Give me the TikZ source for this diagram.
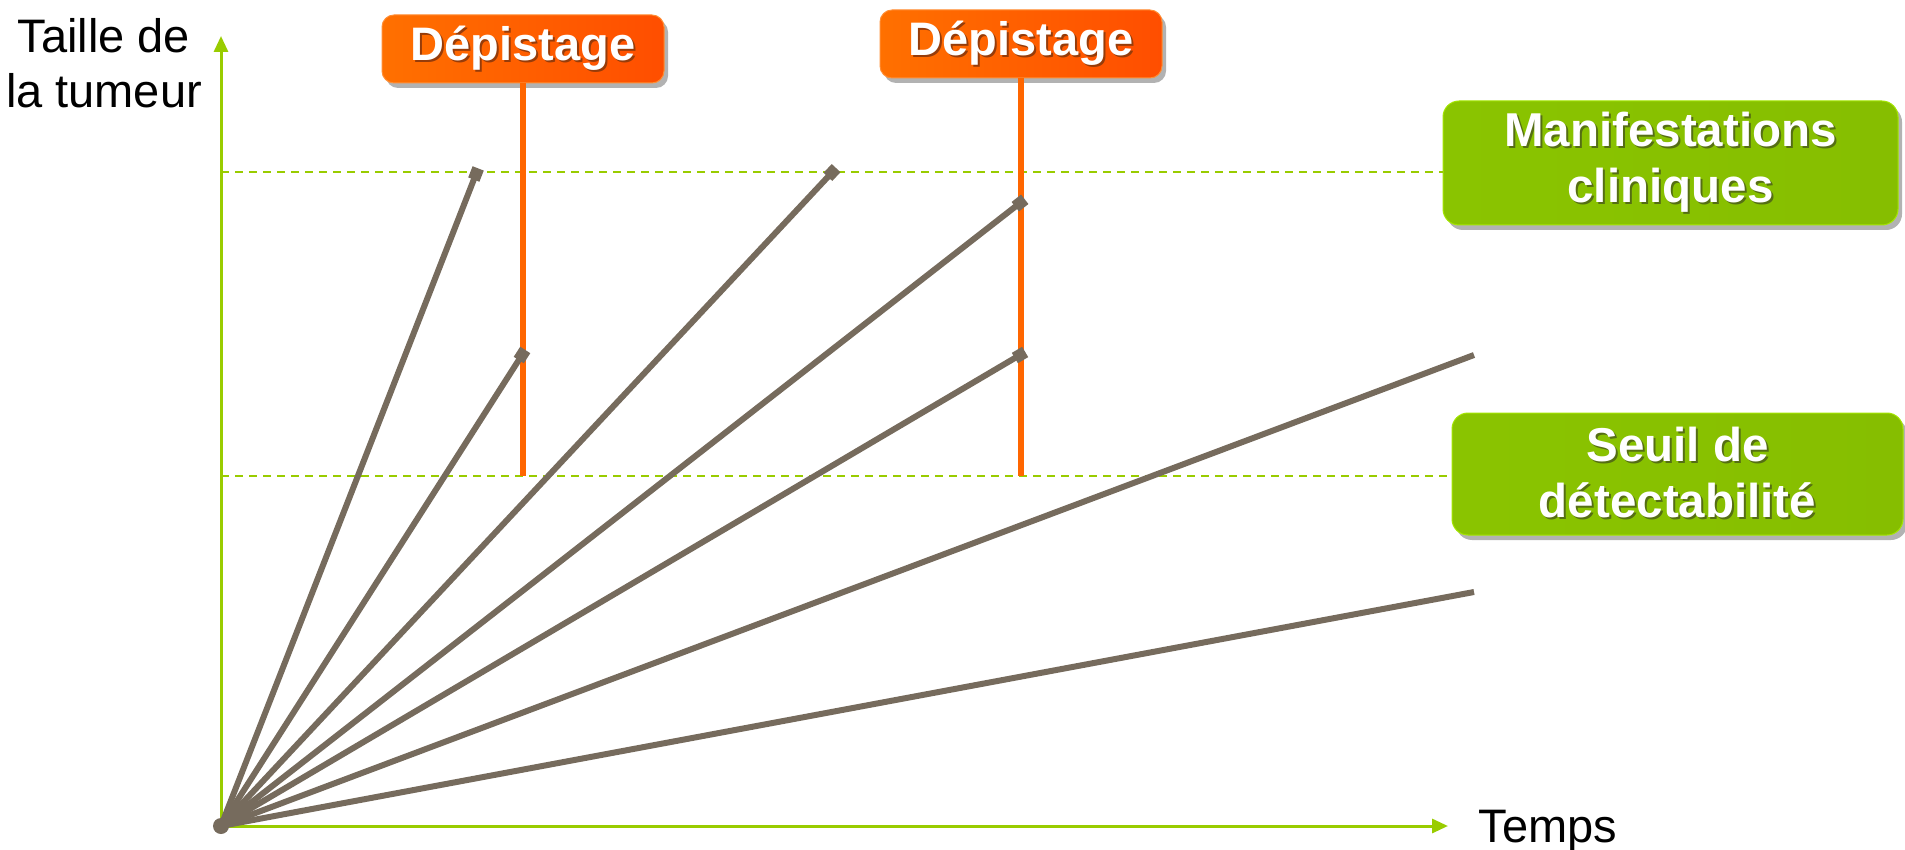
\documentclass[tikz,border=0pt]{standalone}
\usepackage{fontspec}
\setmainfont{Liberation Sans}
\usetikzlibrary{arrows.meta,shadows}
\definecolor{axisgreen}{RGB}{153,204,0}
\definecolor{tumor}{RGB}{118,107,93}
\definecolor{oline}{RGB}{255,102,0}
\definecolor{orL}{RGB}{255,112,0}
\definecolor{orR}{RGB}{255,78,0}
\definecolor{grL}{RGB}{138,196,0}
\definecolor{grM}{RGB}{164,230,0}
\definecolor{grR}{RGB}{134,190,0}
\definecolor{shOr}{RGB}{150,60,10}
\definecolor{shGr}{RGB}{85,110,20}
\newcommand\shtxt[2]{\leavevmode\rlap{\hspace{2pt}\raisebox{-2pt}{\textcolor{#1}{#2}}}#2}
\begin{document}
\begin{tikzpicture}[x=1pt,y=-1pt,
  axisline/.style={draw=axisgreen,line width=3pt,-{Triangle[length=16pt,width=14pt]}},
  guide/.style={draw=axisgreen,line width=2pt,dash pattern=on 8pt off 6pt},
  screenline/.style={draw=oline,line width=5.5pt},
  growth/.style={draw=tumor,line width=6pt,line cap=round},
  marker/.style={fill=tumor,minimum size=12pt,inner sep=0pt,rectangle},
  depbox/.style={rounded corners=12pt,minimum width=282pt,minimum height=68pt,
    left color=orL,right color=orR,draw=orL!80!white,line width=1pt,text=white,
    font=\fontsize{47}{55}\selectfont\bfseries,inner sep=0pt,
    drop shadow={shadow xshift=4pt,shadow yshift=-5pt,opacity=0.3,fill=black}},
  gbox/.style={rounded corners=16pt,minimum width=455pt,minimum height=124pt,
    left color=grL,middle color=grM,right color=grR,draw=grM,line width=1pt,text=white,
    font=\fontsize{47.5}{56}\selectfont\bfseries,align=center,inner sep=0pt,
    drop shadow={shadow xshift=4pt,shadow yshift=-5pt,opacity=0.3,fill=black}},
  lbl/.style={font=\fontsize{47}{55}\selectfont,text=black}
]
\useasboundingbox (0,0) rectangle (1905,850);
% axes
\coordinate (o) at (221,826);
\coordinate (ytip) at (221,36);
\coordinate (xtip) at (1448,826);
\draw[axisline] (o) -- (ytip);
\draw[axisline] (o) -- (xtip);
\node[lbl,align=center] (tl) at (104,63) {Taille de\\la tumeur};
\node[lbl,anchor=base west] (tp) at (1475,842) {Temps};
% green boxes
\node[gbox] (g1) at (1670.5,163) {\shtxt{shGr}{Manifestations}\\\shtxt{shGr}{cliniques}};
\node[gbox,minimum width=451pt,minimum height=122pt] (g2) at (1677.5,474) {\shtxt{shGr}{Seuil de}\\\shtxt{shGr}{détectabilité}};
% guide lines
\coordinate (c1) at (221,172.5);
\coordinate (c2) at (221,476);
\draw[guide] (c1) -- (c1 -| g1.west);
\draw[guide] (c2) -- (c2 -| g2.west);
% screening boxes and lines
\node[depbox] (d1) at (523,49) {\shtxt{shOr}{Dépistage}};
\node[depbox] (d2) at (1021,44) {\shtxt{shOr}{Dépistage}};
\draw[screenline] (d1.south) -- (d1.south |- c2);
\draw[screenline] (d2.south) -- (d2.south |- c2);
% growth lines
\coordinate (e1) at (476,174);
\coordinate (e2) at (522,355);
\coordinate (e3) at (832,172.5);
\coordinate (e4) at (1020,203);
\coordinate (e5) at (1020,355);
\coordinate (e6) at (1474,355);
\coordinate (e7) at (1474,592);
\fill[tumor] (o) circle (8pt);
\foreach \e in {e1,e2,e3,e4,e5}{
  \draw[growth] (o) -- (\e) node[pos=1,sloped,marker]{};
}
\draw[growth,line cap=butt] (o) -- (e6);
\draw[growth,line cap=butt] (o) -- (e7);
\end{tikzpicture}
\end{document}
